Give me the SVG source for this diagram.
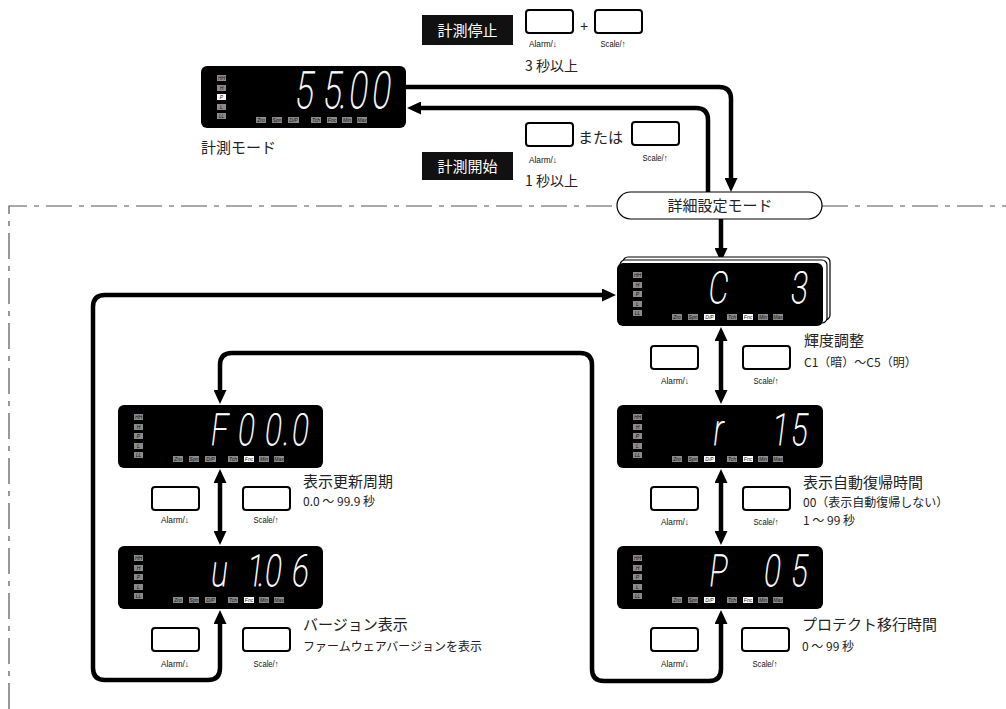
<svg xmlns="http://www.w3.org/2000/svg" xmlns:xlink="http://www.w3.org/1999/xlink" width="1006" height="709" viewBox="0 0 1006 709">
<defs>
<style>
.disp{fill:#000}
.ind rect{stroke:none}
.ind text{font-family:"Liberation Sans",sans-serif;font-size:5px;font-style:italic;fill:#111;text-anchor:middle}
.led{font-family:Roboto,"Liberation Sans",sans-serif;font-weight:100;fill:#fff;stroke:#fff;stroke-width:0.8;text-anchor:middle}
.btn{fill:#fff;stroke:#000;stroke-width:2}
.bl{font-family:"Liberation Sans","DejaVu Sans",sans-serif;font-size:9px;fill:#111;text-anchor:middle}
.lab{font-family:"Noto Sans CJK JP",sans-serif;font-size:15px;fill:#222}
.sub{font-family:"Noto Sans CJK JP",sans-serif;font-size:12px;fill:#222}
.conn{fill:none;stroke:#000;stroke-width:4.5}
.dash{fill:none;stroke:#555;stroke-width:1.2;stroke-dasharray:26 7 5 7}
.tab{fill:#111}
.tabt{font-family:"Noto Sans CJK JP",sans-serif;font-size:15px;fill:#fff;text-anchor:middle}
.stk{fill:#fff;stroke:#000;stroke-width:1.2}
</style>
<marker id="ah" markerUnits="userSpaceOnUse" markerWidth="14" markerHeight="13" refX="4" refY="6.5" orient="auto-start-reverse"><path d="M0,0 L14,6.5 L0,13 z" fill="#000"/></marker>
<g id="panel" class="ind">
<rect x="16" y="9" width="9" height="6" fill="#8a8a8a"/><text x="20.5" y="14">HH</text>
<rect x="16" y="19" width="9" height="6" fill="#8a8a8a"/><text x="20.5" y="24">H</text>
<rect x="16" y="28" width="9" height="6" style="fill:var(--p,#8a8a8a)"/><text x="20.5" y="33">P</text>
<rect x="16" y="38" width="9" height="6" fill="#8a8a8a"/><text x="20.5" y="43">L</text>
<rect x="16" y="47" width="9" height="6" fill="#8a8a8a"/><text x="20.5" y="52">LL</text>
<rect x="55" y="51" width="10" height="6" fill="#8a8a8a"/><text x="60" y="56">Zro</text>
<rect x="71" y="51" width="10" height="6" fill="#8a8a8a"/><text x="76" y="56">Spn</text>
<rect x="87" y="51" width="11" height="6" style="fill:var(--dp,#8a8a8a)"/><text x="92.5" y="56">D/P</text>
<rect x="110" y="51" width="10" height="6" fill="#8a8a8a"/><text x="115" y="56">Tch</text>
<rect x="126" y="51" width="10" height="6" style="fill:var(--fnc,#8a8a8a)"/><text x="131" y="56">Fnc</text>
<rect x="141" y="51" width="10" height="6" fill="#8a8a8a"/><text x="146" y="56">Min</text>
<rect x="156" y="51" width="10" height="6" fill="#8a8a8a"/><text x="161" y="56">Max</text>
</g>
</defs>
<rect width="1006" height="709" fill="#fff"/>

<g id="frame">
<path class="dash" d="M9,709 V206 H617"/>
<path class="dash" d="M822,206 H1006"/>
</g>

<g id="connectors">
<path class="conn" d="M406,87 H719 Q731,87 731,99 V182" marker-end="url(#ah)"/>
<path class="conn" d="M708,192 V120 Q708,108 696,108 H417" marker-end="url(#ah)"/>
<path class="conn" d="M721,219 V252" marker-end="url(#ah)"/>
<path class="conn" d="M721,337 V394" marker-start="url(#ah)" marker-end="url(#ah)"/>
<path class="conn" d="M721,479 V535" marker-start="url(#ah)" marker-end="url(#ah)"/>
<path class="conn" d="M220,479 V535" marker-start="url(#ah)" marker-end="url(#ah)"/>
<path class="conn" d="M220,620 V668 Q220,680 208,680 H105 Q93,680 93,668 V307 Q93,295 105,295 H606" marker-start="url(#ah)" marker-end="url(#ah)"/>
<path class="conn" d="M721,620 V669 Q721,681 709,681 H604 Q592,681 592,669 V365 Q592,353 580,353 H232 Q220,353 220,365 V394" marker-start="url(#ah)" marker-end="url(#ah)"/>
</g>

<g id="stop">
<rect class="tab" x="422" y="15" width="91" height="30"/>
<text class="tabt" x="467.5" y="36">計測停止</text>
<rect class="btn" x="526" y="10" width="47" height="23" rx="3"/>
<text x="584" y="31" font-family="Liberation Sans, sans-serif" font-size="14" text-anchor="middle" fill="#222">+</text>
<rect class="btn" x="595" y="10" width="47" height="23" rx="3"/>
<text class="bl" x="543" y="47" textLength="28" lengthAdjust="spacingAndGlyphs">Alarm/↓</text>
<text class="bl" x="613" y="47" textLength="25" lengthAdjust="spacingAndGlyphs">Scale/↑</text>
<text x="525" y="71" font-family="Noto Sans CJK JP, sans-serif" font-size="14" fill="#222">3 秒以上</text>
</g>

<g id="start">
<rect class="tab" x="422" y="152" width="91" height="28"/>
<text class="tabt" x="467.5" y="172">計測開始</text>
<rect class="btn" x="526" y="123" width="47" height="23" rx="3"/>
<text x="578" y="143" font-family="Noto Sans CJK JP, sans-serif" font-size="15" fill="#222">または</text>
<rect class="btn" x="632" y="122" width="47" height="23" rx="3"/>
<text class="bl" x="543" y="163" textLength="28" lengthAdjust="spacingAndGlyphs">Alarm/↓</text>
<text class="bl" x="655" y="161" textLength="25" lengthAdjust="spacingAndGlyphs">Scale/↑</text>
<text x="525" y="186" font-family="Noto Sans CJK JP, sans-serif" font-size="14" fill="#222">1 秒以上</text>
</g>

<g id="measure" transform="translate(201,66)">
<rect class="disp" width="205" height="62" rx="6"/>
<use href="#panel" xlink:href="#panel" style="--p:#fff"/>
<text class="led" font-size="51" transform="translate(0,42) skewX(-7) scale(0.66,1)" x="154.5 197 213.6 236.4 271.2" y="0">55.00</text>
<text x="0" y="87" font-family="Noto Sans CJK JP, sans-serif" font-size="15" fill="#222">計測モード</text>
</g>

<g id="detail-mode">
<rect class="stk" x="617" y="192" width="205" height="27" rx="13.5"/>
<text x="720" y="211" font-family="Noto Sans CJK JP, sans-serif" font-size="15" fill="#222" text-anchor="middle">詳細設定モード</text>
</g>

<g id="brightness">
<rect class="stk" x="623" y="257" width="207" height="63" rx="5"/>
<rect class="stk" x="620" y="260" width="207" height="63" rx="5"/>
<g transform="translate(617,263)">
<rect class="disp" width="206" height="63" rx="6"/>
<use href="#panel" xlink:href="#panel" style="--dp:#fff;--fnc:#fff"/>
<text class="led" font-size="44" transform="translate(0,40) skewX(-7) scale(0.68,1)" x="147.1 206 266.2" y="0">C 3</text>
</g>
<rect class="btn" x="651" y="346" width="47" height="23" rx="3"/>
<rect class="btn" x="743" y="346" width="47" height="23" rx="3"/>
<text class="bl" x="675" y="384" textLength="28" lengthAdjust="spacingAndGlyphs">Alarm/↓</text>
<text class="bl" x="766" y="384" textLength="25" lengthAdjust="spacingAndGlyphs">Scale/↑</text>
<text class="lab" x="804" y="346">輝度調整</text>
<text class="sub" x="804" y="367">C1（暗）～C5（明）</text>
</g>

<g id="auto-return">
<g transform="translate(617,405)">
<rect class="disp" width="206" height="63" rx="6"/>
<use href="#panel" xlink:href="#panel" style="--dp:#fff;--fnc:#fff"/>
<text class="led" font-size="44" transform="translate(0,40) skewX(-7) scale(0.68,1)" x="147.1 206 238.2 266.2" y="0">r 15</text>
</g>
<rect class="btn" x="651" y="487" width="47" height="23" rx="3"/>
<rect class="btn" x="743" y="487" width="47" height="23" rx="3"/>
<text class="bl" x="675" y="525" textLength="28" lengthAdjust="spacingAndGlyphs">Alarm/↓</text>
<text class="bl" x="766" y="525" textLength="25" lengthAdjust="spacingAndGlyphs">Scale/↑</text>
<text class="lab" x="803" y="488">表示自動復帰時間</text>
<text class="sub" x="803" y="507">00（表示自動復帰しない）</text>
<text class="sub" x="803" y="525">1 ～ 99 秒</text>
</g>

<g id="protect">
<g transform="translate(617,546)">
<rect class="disp" width="206" height="63" rx="6"/>
<use href="#panel" xlink:href="#panel" style="--dp:#fff;--fnc:#fff"/>
<text class="led" font-size="44" transform="translate(0,40) skewX(-7) scale(0.68,1)" x="147.1 190 226.5 266.2" y="0">P 05</text>
</g>
<rect class="btn" x="651" y="628" width="47" height="23" rx="3"/>
<rect class="btn" x="742" y="628" width="47" height="23" rx="3"/>
<text class="bl" x="675" y="667" textLength="28" lengthAdjust="spacingAndGlyphs">Alarm/↓</text>
<text class="bl" x="765" y="667" textLength="25" lengthAdjust="spacingAndGlyphs">Scale/↑</text>
<text class="lab" x="802" y="630">プロテクト移行時間</text>
<text class="sub" x="802" y="651">0 ～ 99 秒</text>
</g>

<g id="refresh">
<g transform="translate(118,405)">
<rect class="disp" width="205" height="63" rx="6"/>
<use href="#panel" xlink:href="#panel" style="--fnc:#fff"/>
<text class="led" font-size="44" transform="translate(0,40) skewX(-7) scale(0.68,1)" x="147.1 186.8 226.5 245.6 266.2" y="0">F00.0</text>
</g>
<rect class="btn" x="152" y="487" width="47" height="23" rx="3"/>
<rect class="btn" x="243" y="487" width="47" height="23" rx="3"/>
<text class="bl" x="175" y="523" textLength="28" lengthAdjust="spacingAndGlyphs">Alarm/↓</text>
<text class="bl" x="266" y="523" textLength="25" lengthAdjust="spacingAndGlyphs">Scale/↑</text>
<text class="lab" x="303" y="487">表示更新周期</text>
<text class="sub" x="303" y="506">0.0 ～ 99.9 秒</text>
</g>

<g id="version">
<g transform="translate(118,546)">
<rect class="disp" width="205" height="63" rx="6"/>
<use href="#panel" xlink:href="#panel" style="--fnc:#fff"/>
<text class="led" font-size="44" transform="translate(0,40) skewX(-7) scale(0.68,1)" x="147.1 175 200 208.8 226.5 266.2" y="0">u 1.06</text>
</g>
<rect class="btn" x="152" y="628" width="47" height="23" rx="3"/>
<rect class="btn" x="243" y="628" width="47" height="23" rx="3"/>
<text class="bl" x="175" y="667" textLength="28" lengthAdjust="spacingAndGlyphs">Alarm/↓</text>
<text class="bl" x="266" y="667" textLength="25" lengthAdjust="spacingAndGlyphs">Scale/↑</text>
<text class="lab" x="303" y="630">バージョン表示</text>
<text class="sub" x="303" y="651">ファームウェアバージョンを表示</text>
</g>
</svg>
